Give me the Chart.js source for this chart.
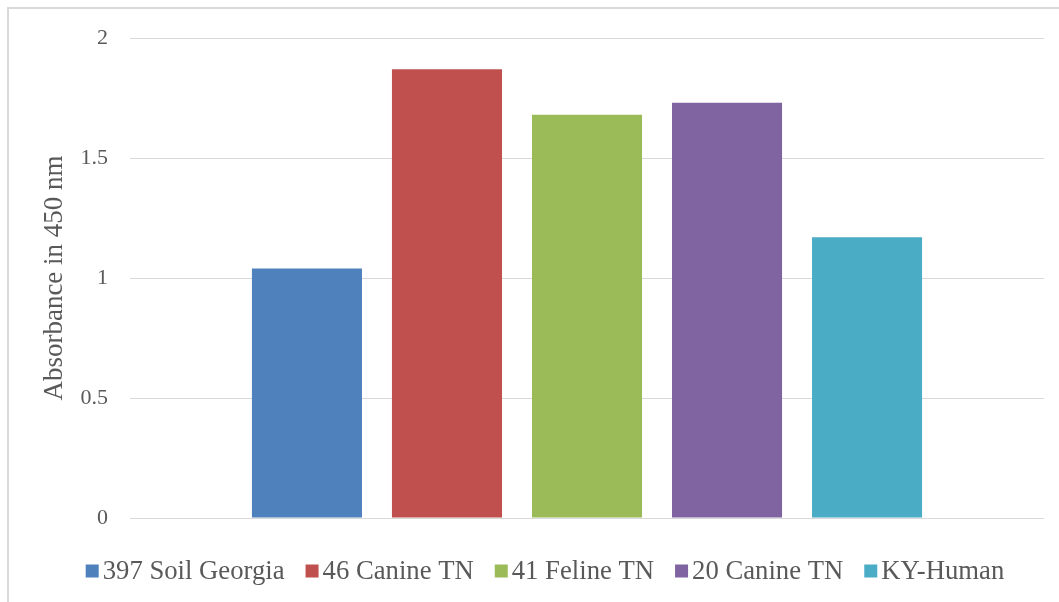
<!DOCTYPE html>
<html>
<head>
<meta charset="utf-8">
<title>Absorbance in 450 nm</title>
<script src="https://cdn.jsdelivr.net/npm/chart.js@4.4.1/dist/chart.umd.min.js"></script>
<style>
  html, body { margin: 0; padding: 0; background: #ffffff; }
  #wrap { width: 1059px; height: 602px; position: relative; }
</style>
</head>
<body>
<div id="wrap"><canvas id="chart" width="1059" height="602"></canvas></div>
<script>
// Isolates and their absorbance readings at 450 nm
const seriesNames = ['397 Soil Georgia', '46 Canine TN', '41 Feline TN', '20 Canine TN', 'KY-Human'];
const absorbance = [1.04, 1.87, 1.68, 1.73, 1.17];
const seriesColors = ['#4F81BD', '#C0504D', '#9BBB59', '#8064A2', '#4BACC6'];
const categories = [''];
const yTicks = [0, 0.5, 1, 1.5, 2];

const FONT = "'Liberation Serif', 'Times New Roman', serif";
const TEXT = '#595959';

const datasets = seriesNames.map((name, i) => ({
  label: name,
  data: [absorbance[i]],
  backgroundColor: seriesColors[i],
  borderWidth: 0,
  categoryPercentage: 0.766,
  barPercentage: 0.786
}));

// Light frame around the whole figure
const framePlugin = {
  id: 'frame',
  beforeDraw(chart) {
    const ctx = chart.ctx;
    ctx.save();
    ctx.fillStyle = '#ffffff';
    ctx.fillRect(0, 0, chart.width, chart.height);
    ctx.strokeStyle = '#d9d9d9';
    ctx.lineWidth = 2;
    ctx.strokeRect(8, 8, chart.width + 20, chart.height + 20);
    ctx.restore();
  }
};

// Legend row under the plot: square swatch followed by the series name
const legendRow = {
  id: 'legendRow',
  afterDraw(chart) {
    const ctx = chart.ctx;
    const box = 13, boxGap = 4, itemGap = 21, size = 26.7;
    ctx.save();
    ctx.font = size + 'px ' + FONT;
    ctx.textBaseline = 'middle';
    const items = chart.data.datasets.map(ds => ({
      text: ds.label, color: ds.backgroundColor, w: ctx.measureText(ds.label).width
    }));
    const total = items.reduce((s, it) => s + box + boxGap + it.w, 0) + itemGap * (items.length - 1);
    let x = 545 - total / 2;
    const cy = 571;
    items.forEach(it => {
      ctx.fillStyle = it.color;
      ctx.fillRect(x, cy - box / 2, box, box);
      x += box + boxGap;
      ctx.fillStyle = TEXT;
      ctx.fillText(it.text, x, cy + 1);
      x += it.w + itemGap;
    });
    ctx.restore();
  }
};

new Chart(document.getElementById('chart'), {
  type: 'bar',
  data: { labels: categories, datasets },
  options: {
    responsive: false,
    animation: false,
    devicePixelRatio: 1,
    layout: { padding: { left: 36, right: 15, top: 38, bottom: 84 } },
    plugins: {
      legend: { display: false },
      tooltip: { enabled: false }
    },
    scales: {
      x: { display: false },
      y: {
        min: 0,
        max: 2,
        afterFit(scale) { scale.width = 94; },
        afterBuildTicks(scale) { scale.ticks = yTicks.map(v => ({ value: v })); },
        border: { display: false },
        grid: { color: '#d9d9d9', lineWidth: 1, drawTicks: false },
        ticks: {
          padding: 22,
          color: TEXT,
          font: { family: FONT, size: 22 },
          callback: v => String(v)
        },
        title: {
          display: true,
          text: 'Absorbance in 450 nm',
          color: TEXT,
          font: { family: FONT, size: 27 },
          padding: { top: 3, bottom: 4 }
        }
      }
    }
  },
  plugins: [framePlugin, legendRow]
});
</script>
</body>
</html>
